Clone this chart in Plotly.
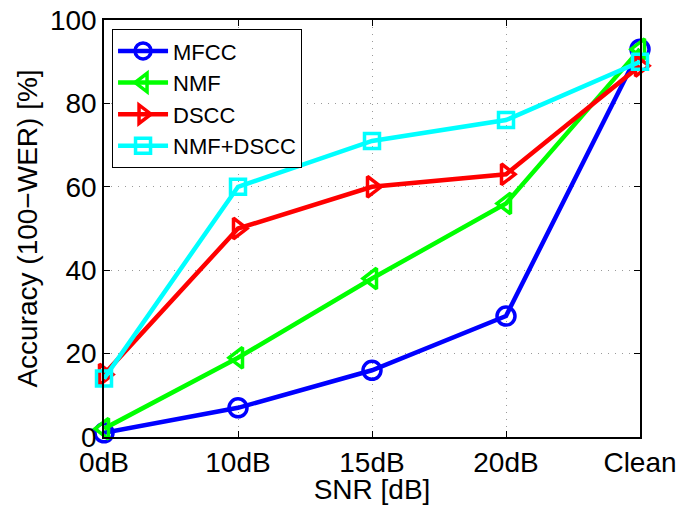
import plotly.graph_objects as go

# SNR conditions and recognition accuracy per feature set
conditions = ["0dB", "10dB", "15dB", "20dB", "Clean"]
mfcc = [1, 7, 16, 29, 93]
nmf = [2, 19, 38, 56, 93]
dscc = [15, 50, 60, 63, 89]
nmf_dscc = [14, 60, 71, 76, 90]

series = [
    ("MFCC", mfcc, "#0000ff", "circle-open", 18),
    ("NMF", nmf, "#00ff00", "triangle-left-open", 18),
    ("DSCC", dscc, "#ff0000", "triangle-right-open", 18),
    ("NMF+DSCC", nmf_dscc, "#00ffff", "square-open", 15),
]

x_pos = list(range(len(conditions)))

fig = go.Figure()
for name, vals, color, symbol, msize in series:
    fig.add_trace(go.Scatter(
        x=x_pos, y=vals, name=name, mode="lines+markers",
        line=dict(color=color, width=4.5),
        marker=dict(symbol=symbol, size=msize, color=color,
                    line=dict(color=color, width=3.5)),
        cliponaxis=False,
    ))

font = dict(family="Liberation Sans, Helvetica, Arial, sans-serif", size=28, color="black")

axis_style = dict(
    showline=True, linecolor="black", linewidth=1.5, mirror="ticks",
    ticks="inside", ticklen=6, tickcolor="black", tickwidth=1,
    showgrid=True, gridcolor="#9a9a9a", griddash="1px,6px", gridwidth=1,
    zeroline=False, automargin=False,
)

fig.update_layout(
    width=679, height=505,
    margin=dict(l=104, r=39, t=20, b=68),
    paper_bgcolor="white", plot_bgcolor="white",
    font=font,
    showlegend=True,
    legend=dict(
        x=0.015, y=0.978, xanchor="left", yanchor="top",
        bgcolor="white", bordercolor="black", borderwidth=1,
        font=dict(size=22), itemwidth=50, tracegroupgap=0,
    ),
    xaxis=dict(
        range=[0, 4], tickvals=x_pos, ticktext=conditions,
        title=dict(text="SNR [dB]", standoff=4, font=dict(size=28)),
        **axis_style,
    ),
    yaxis=dict(
        range=[0, 100], tickvals=[0, 20, 40, 60, 80, 100],
        title=dict(text="Accuracy (100\u2212WER) [%]", standoff=4, font=dict(size=28)),
        **axis_style,
    ),
)

fig.write_html("out.html")
